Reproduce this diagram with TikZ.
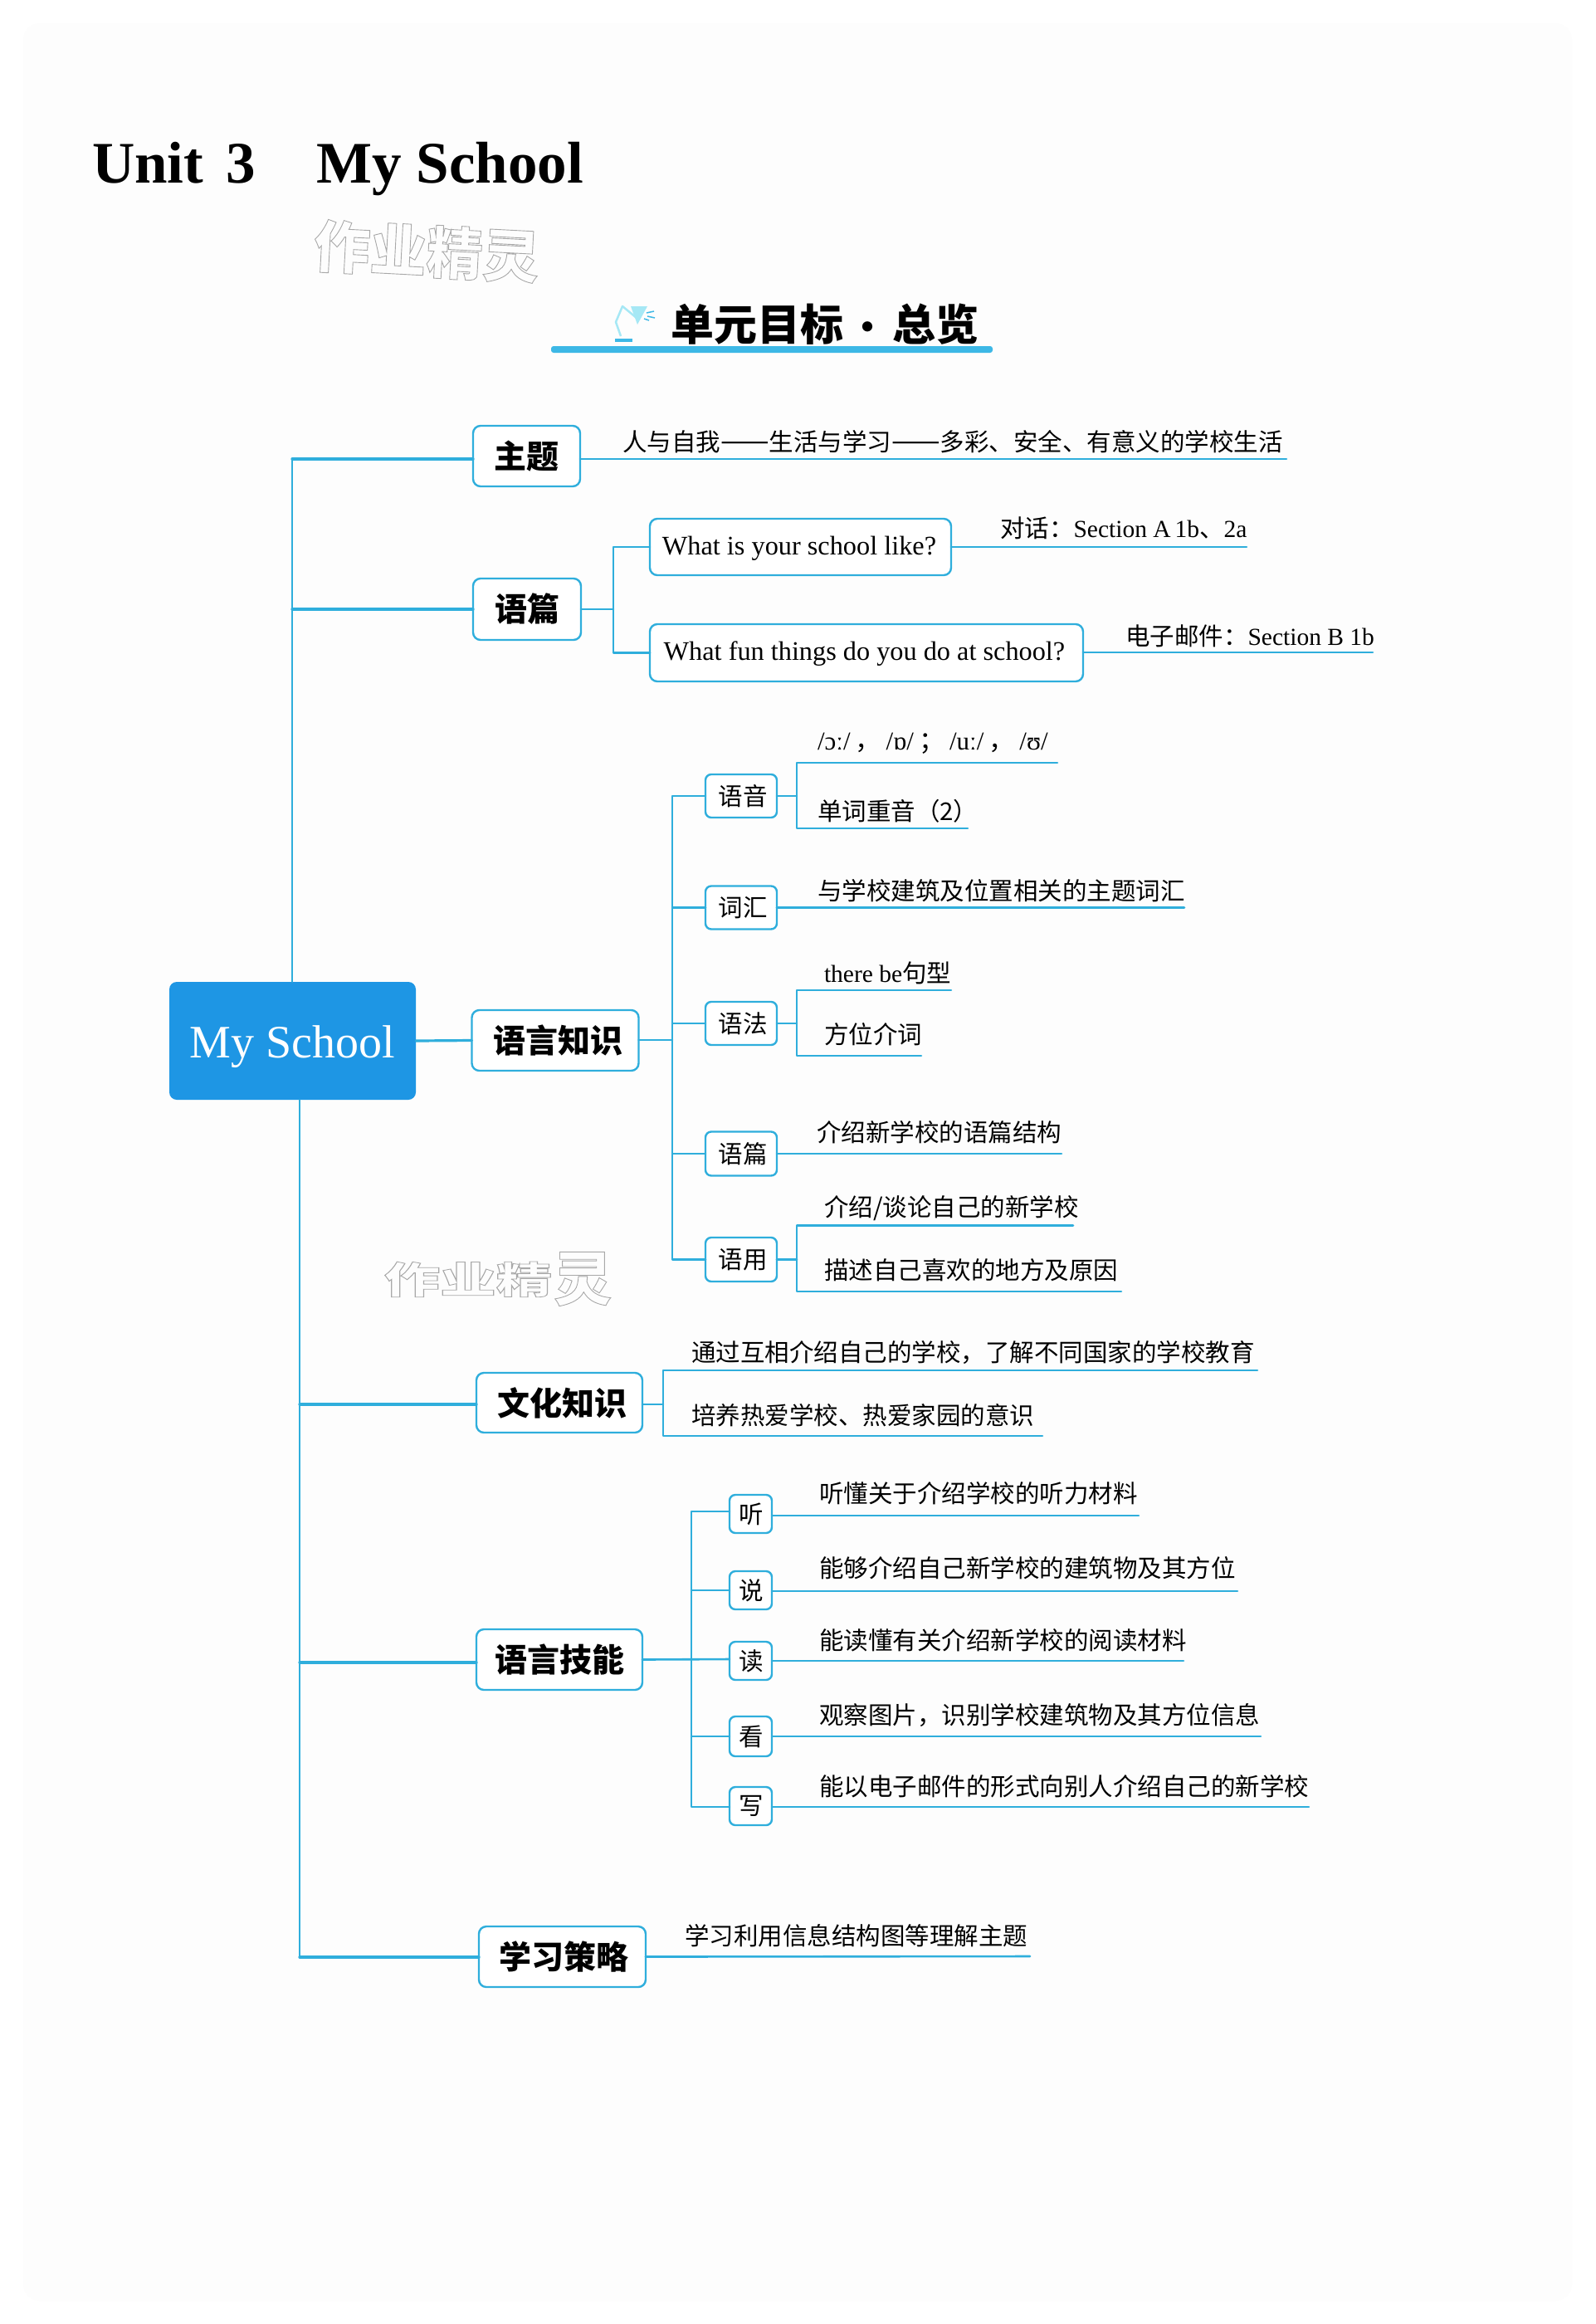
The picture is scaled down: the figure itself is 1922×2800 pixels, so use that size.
\documentclass[tikz,border=0pt]{standalone}
\usepackage{fontspec}
\setmainfont{Liberation Serif}
\newfontfamily\cjk{Noto Sans CJK SC}
\newcommand\zh[1]{{\cjk #1}}
\newcommand\fsz[1]{\fontsize{#1}{#1}\selectfont}
\definecolor{mapline}{HTML}{2FAEDC}
\definecolor{mapfill}{HTML}{1E96E4}
\definecolor{barcol}{HTML}{3DB8E6}
\definecolor{lampcol}{HTML}{A6E8F5}
\definecolor{pagecol}{HTML}{FDFDFD}
\newcommand\outlined[1]{\special{pdf:code q 1 Tr 0.9 w 0.66 0.66 0.66 RG}#1\special{pdf:code Q}}
\tikzset{
  ln/.style={draw=mapline,line width=3.2pt,line cap=round,line join=round},
  thinln/.style={draw=mapline,line width=2.6pt,line cap=round,line join=round},
  bigbox/.style={draw=mapline,fill=white,line width=2.4pt,rounded corners=9pt,inner sep=0pt,outer sep=0pt,align=center,font=\cjk\bfseries\fsz{39}},
  subbox/.style={draw=mapline,fill=white,line width=2.4pt,rounded corners=7pt,inner sep=0pt,outer sep=0pt,align=center,font=\cjk\fsz{29.5}},
  engbox/.style={draw=mapline,fill=white,line width=2.4pt,rounded corners=9pt,inner sep=0pt,outer sep=0pt,anchor=center,text height=26pt,text depth=8pt,font=\fsz{32.3}},
  lbl/.style={anchor=west,inner sep=0pt,outer sep=0pt,text height=25pt,text depth=5pt,font=\cjk\fsz{29.5}},
  lblen/.style={anchor=west,inner sep=0pt,outer sep=0pt,text height=25pt,text depth=5pt,font=\rmfamily\fsz{29.5}},
  wmark/.style={inner sep=0pt,font=\cjk\bfseries\fsz{68}},
}
\begin{document}
\begin{tikzpicture}[x=1pt,y=-1pt]
\useasboundingbox (0,0) rectangle (1922,2800);
\fill[white] (0,0) rectangle (1922,2800);
\fill[pagecol,rounded corners=20pt] (28,28) rectangle (1894,2772);

% title
\node[anchor=base west,inner sep=0pt,font=\rmfamily\bfseries\fsz{71}] (title) at (111,220) {Unit\hspace{9pt} 3\hspace{74pt}My School};

% watermarks
\node[wmark,rotate=-3] (wm1) at (514,303) {\outlined{作业精灵}};
\node[wmark,font=\cjk\bfseries\fsz{50}] (wm2) at (600,1541) {\scalebox{1.35}[0.9]{\outlined{作业精}}\hspace{2pt}\raisebox{-8pt}{\fsz{70}\outlined{灵}}};

% section heading
\node[anchor=west,inner sep=0pt,font=\cjk\bfseries\fsz{52}] (heading) at (808,391) {单元目标\hspace{7.5pt}{\fsz{44}·}\hspace{7.5pt}总览};
\fill[barcol,rounded corners=3pt] (664,417) rectangle (1196,425);
\fill[lampcol] (760,369) -- (780,369) -- (768,391) -- cycle;
\draw[lampcol,line width=2.5pt,line join=round] (767,383) -- (750,369) -- (742,388) -- (748,405);
\draw[barcol,line width=1.5pt] (779,377) -- (788,375) (780,381) -- (789,383) (776,384) -- (782,386);
\fill[barcol] (741,408) rectangle (762,411.5);

% root
\node[fill=mapfill,rounded corners=9pt,inner sep=0pt,minimum width=297pt,minimum height=142pt,text=white,text height=50pt,text depth=10pt,font=\rmfamily\fsz{56}] (root) at (352.5,1254) {My School};

% first level
\node[bigbox,minimum width=129pt,minimum height=73pt] (zhuti) at (634.5,549.5) {主题};
\node[bigbox,minimum width=130pt,minimum height=74pt] (yupian) at (635,734) {语篇};
\node[bigbox,minimum width=201pt,minimum height=73pt] (zhishi) at (669,1253.5) {\hspace*{6pt}语言知识};
\node[bigbox,minimum width=200pt,minimum height=72pt] (wenhua) at (674,1690) {\hspace*{7pt}文化知识};
\node[bigbox,minimum width=200pt,minimum height=73pt] (jineng) at (674,1999.5) {\raisebox{-3.5pt}{语言技能}};
\node[bigbox,minimum width=201pt,minimum height=73pt] (celue) at (677.5,2357.5) {\hspace*{3pt}\raisebox{-3pt}{学习策略}};

% trunk coordinates
\coordinate (tz) at (352,553);
\coordinate (tp) at (352,734);
\coordinate (tw) at (361,1692);
\coordinate (tj) at (361,2003);
\coordinate (tc) at (361,2358);
\draw[thinln] (root.north -| tz) -- (tz);
\draw[ln] (tz) -- (zhuti.west |- tz);
\draw[ln] (tp) -- (yupian.west);
\draw[thinln] (root.south -| tw) -- (tc);
\draw[ln] (tc) -- (celue.west |- tc);
\draw[ln] (tw) -- (wenhua.west |- tw);
\draw[ln] (tj) -- (jineng.west |- tj);
\draw[ln] (root.east) -- (zhishi.west);

% theme
\coordinate (zhutiend) at (1550,553);
\draw[thinln] (zhuti.east |- zhutiend) -- (zhutiend);
\node[lbl] (zhutit) at (750,533) {人与自我{\fsz{35}——}生活与学习{\fsz{35}——}多彩、安全、有意义的学校生活};

% discourse
\node[engbox,minimum width=363pt,minimum height=68pt] (q1) at (964.5,659) {\hspace*{-3pt}What is your school like?};
\node[engbox,minimum width=522pt,minimum height=69pt] (q2) at (1044,786.5) {\hspace*{-5pt}What fun things do you do at school?};
\coordinate (pf) at (739,734);
\draw[thinln] (yupian.east) -- (pf);
\draw[thinln] (q1.west) -| (pf) |- (q2.west);
\coordinate (q1end) at (1502,659);
\coordinate (q2end) at (1654,786);
\draw[thinln] (q1.east) -- (q1end);
\draw[thinln] (q2.east |- q2end) -- (q2end);
\node[lblen] (q1t) at (1205,637) {\zh{对话：}Section A\hspace{5pt}1b\zh{、}2a};
\node[lblen] (q2t) at (1356,767) {\zh{电子邮件：}Section B 1b};

% language knowledge
\node[subbox,minimum width=86pt,minimum height=52pt] (yuyin) at (893,959) {\hspace*{4pt}语音};
\node[subbox,minimum width=86pt,minimum height=52pt] (cihui) at (893,1093.5) {\hspace*{4pt}词汇};
\node[subbox,minimum width=86pt,minimum height=52pt] (yufa) at (893,1233) {\hspace*{4pt}语法};
\node[subbox,minimum width=86pt,minimum height=53pt] (yp2) at (893,1390) {\hspace*{4pt}语篇};
\node[subbox,minimum width=86pt,minimum height=53pt] (yy) at (893,1517.5) {\hspace*{4pt}语用};
\coordinate (kt) at (810,1253);
\draw[thinln] (zhishi.east |- kt) -- (kt);
\draw[thinln] (yuyin.west) -| (kt) |- (yy.west);
\draw[thinln] (cihui.west) -| (kt);
\draw[thinln] (yufa.west) -| (kt);
\draw[thinln] (yp2.west) -| (kt);

\coordinate (yyf) at (960,959);
\coordinate (yy1) at (1274,919);
\coordinate (yy2) at (1166,998);
\draw[thinln] (yuyin.east) -- (yyf);
\draw[thinln] (yy1) -| (yyf) |- (yy2);
\node[lblen,font=\rmfamily\fsz{31}] (yy1t) at (985,893) {/ɔː/\hspace{6pt}\zh{，}\hspace{6pt}/ɒ/\hspace{6pt}\zh{；}\hspace{6pt}/uː/\hspace{6pt}\zh{，}\hspace{6pt}/ʊ/};
\node[lbl] (yy2t) at (985,978) {单词重音（2）};

\coordinate (chend) at (1427,1093.5);
\draw[thinln] (cihui.east) -- (chend);
\node[lbl] (cht) at (985,1074) {与学校建筑及位置相关的主题词汇};

\coordinate (yff) at (960,1233);
\coordinate (yf1) at (1146,1193);
\coordinate (yf2) at (1110,1272);
\draw[thinln] (yufa.east) -- (yff);
\draw[thinln] (yf1) -| (yff) |- (yf2);
\node[lblen] (yf1t) at (993,1173) {there be\zh{句型}};
\node[lbl] (yf2t) at (993,1247) {方位介词};

\coordinate (ypend) at (1279,1390);
\draw[thinln] (yp2.east) -- (ypend);
\node[lbl] (ypt) at (984,1365) {介绍新学校的语篇结构};

\coordinate (yuf) at (960,1517.5);
\coordinate (yu1) at (1293,1476.5);
\coordinate (yu2) at (1351,1556);
\draw[thinln] (yy.east) -- (yuf);
\draw[thinln] (yu1) -| (yuf) |- (yu2);
\node[lbl] (yu1t) at (993,1455) {介绍/谈论自己的新学校};
\node[lbl] (yu2t) at (993,1531) {描述自己喜欢的地方及原因};

% culture
\coordinate (whf) at (799,1692);
\coordinate (wh1) at (1515,1651);
\coordinate (wh2) at (1256,1730);
\draw[thinln] (wenhua.east |- whf) -- (whf);
\draw[thinln] (wh1) -| (whf) |- (wh2);
\node[lbl] (wh1t) at (833,1630) {通过互相介绍自己的学校，了解不同国家的学校教育};
\node[lbl] (wh2t) at (833,1706) {培养热爱学校、热爱家园的意识};

% skills
\node[subbox,minimum width=51pt,minimum height=46pt] (ting) at (904.5,1824) {\hspace*{2pt}听};
\node[subbox,minimum width=51pt,minimum height=46pt] (shuo) at (904.5,1916) {\hspace*{2pt}说};
\node[subbox,minimum width=51pt,minimum height=46pt] (du) at (904.5,2001) {\hspace*{2pt}读};
\node[subbox,minimum width=51pt,minimum height=48pt] (kan) at (904.5,2092) {\hspace*{2pt}看};
\node[subbox,minimum width=51pt,minimum height=46pt] (xie) at (904.5,2176) {\hspace*{2pt}写};
\coordinate (jt) at (833,1999);
\draw[thinln] (jineng.east) -- (du.west |- jt);
\coordinate (tingl) at (833,1821);
\coordinate (xiel) at (833,2177);
\draw[thinln] (ting.west |- tingl) -- (tingl) -- (xiel) -- (xie.west |- xiel);
\draw[thinln] (shuo.west) -- (shuo.west -| tingl);
\draw[thinln] (kan.west) -- (kan.west -| tingl);
\coordinate (e1) at (1372,1826);
\coordinate (e2) at (1491,1917);
\coordinate (e3) at (1426,2001);
\coordinate (e4) at (1519,2092);
\coordinate (e5) at (1577,2177);
\draw[thinln] (ting.east |- e1) -- (e1);
\draw[thinln] (shuo.east |- e2) -- (e2);
\draw[thinln] (du.east) -- (e3);
\draw[thinln] (kan.east) -- (e4);
\draw[thinln] (xie.east |- e5) -- (e5);
\node[lbl] (t1) at (987,1800) {听懂关于介绍学校的听力材料};
\node[lbl] (t2) at (987,1890) {能够介绍自己新学校的建筑物及其方位};
\node[lbl] (t3) at (987,1977) {能读懂有关介绍新学校的阅读材料};
\node[lbl] (t4) at (987,2067) {观察图片，识别学校建筑物及其方位信息};
\node[lbl] (t5) at (987,2153) {能以电子邮件的形式向别人介绍自己的新学校};

% strategy
\coordinate (clend) at (1241,2357);
\draw[thinln] (celue.east) -- (clend);
\node[lbl] (clt) at (825,2333) {学习利用信息结构图等理解主题};
\end{tikzpicture}
\end{document}
